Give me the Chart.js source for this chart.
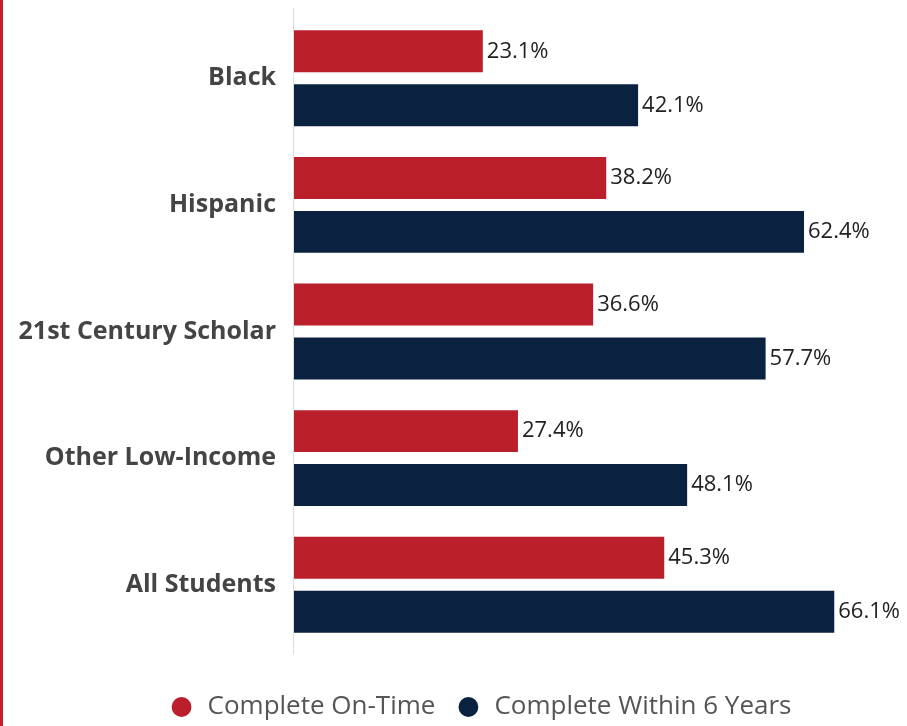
<!DOCTYPE html>
<html>
<head>
<meta charset="utf-8">
<script src="https://cdn.jsdelivr.net/npm/chart.js@4.4.1/dist/chart.umd.min.js"></script>
<style>
  html, body { margin: 0; padding: 0; background: #fff; }
  #wrap { position: relative; width: 907px; height: 726px; overflow: hidden; }
  #edge { position: absolute; left: 0; top: 0; width: 3px; height: 726px; background: #c41f2e; }
</style>
</head>
<body>
<div id="wrap">
  <canvas id="myChart" width="907" height="726"></canvas>
  <div id="edge"></div>
</div>
<script>
const categories = ["Black", "Hispanic", "21st Century Scholar", "Other Low-Income", "All Students"];
const onTime = [23.1, 38.2, 36.6, 27.4, 45.3];
const withinSix = [42.1, 62.4, 57.7, 48.1, 66.1];
const seriesNames = ["Complete On-Time", "Complete Within 6 Years"];

const RED = "#ba1f2b";
const NAVY = "#0a223f";

// value labels at the end of each bar
const barLabels = {
  id: "barLabels",
  afterDatasetsDraw(chart) {
    const ctx = chart.ctx;
    ctx.save();
    ctx.font = "400 22px 'Open Sans'";
    ctx.fillStyle = "#222";
    ctx.textBaseline = "middle";
    ctx.textAlign = "left";
    chart.data.datasets.forEach((ds, i) => {
      chart.getDatasetMeta(i).data.forEach((bar, j) => {
        ctx.fillText(ds.data[j].toFixed(1) + "%", bar.x + 4, bar.y);
      });
    });
    ctx.restore();
  }
};

// thin gray axis line, a bit taller than the plot
const axisLine = {
  id: "axisLine",
  beforeDatasetsDraw(chart) {
    const { ctx, chartArea } = chart;
    ctx.save();
    ctx.strokeStyle = "#dcdcdc";
    ctx.lineWidth = 1;
    ctx.beginPath();
    ctx.moveTo(chartArea.left - 0.5, chartArea.top - 7);
    ctx.lineTo(chartArea.left - 0.5, chartArea.bottom + 7);
    ctx.stroke();
    ctx.restore();
  }
};

const ctx = document.getElementById("myChart").getContext("2d");

const myChart = new Chart(ctx, {
  type: "bar",
  data: {
    labels: categories,
    datasets: [
      { label: seriesNames[0], data: onTime, backgroundColor: RED, borderColor: RED },
      { label: seriesNames[1], data: withinSix, backgroundColor: NAVY, borderColor: NAVY }
    ]
  },
  options: {
    indexAxis: "y",
    responsive: false,
    animation: false,
    categoryPercentage: 0.852,
    barPercentage: 0.778,
    // negative right padding pushes the centred legend to the right like the original
    layout: { padding: { top: 15, left: 0, right: -53, bottom: -4 } },
    scales: {
      x: {
        min: 0,
        max: 75,
        display: true,
        ticks: { display: false },
        grid: { display: false, drawTicks: false },
        border: { display: false },
        afterFit: (s) => { s.height = 26; }
      },
      y: {
        grid: { display: false, drawTicks: false },
        border: { display: false },
        ticks: {
          padding: 18,
          color: "#444",
          font: { family: "'Open Sans'", size: 25, weight: "bold" }
        },
        afterFit: (s) => {
          s.width = 294;
          s.paddingTop = 0;
          s.paddingBottom = 0;
        }
      }
    },
    plugins: {
      tooltip: { enabled: false },
      legend: {
        position: "bottom",
        labels: {
          usePointStyle: true,
          pointStyle: "circle",
          boxWidth: 26,
          boxHeight: 14,
          padding: 20,
          color: "#555",
          font: { family: "'Open Sans'", size: 26 }
        }
      }
    }
  },
  plugins: [axisLine, barLabels]
});
</script>
</body>
</html>
